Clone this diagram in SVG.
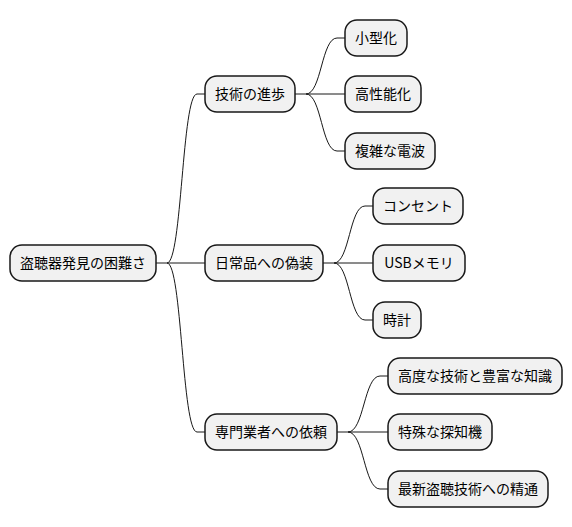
<svg xmlns="http://www.w3.org/2000/svg" width="572" height="527" viewBox="0 0 572 527">
<style>
.n rect{fill:#F1F1F1;stroke:#181818;stroke-width:1.5}
.n text{font-family:"Noto Sans CJK JP","Noto Sans",sans-serif;font-size:14px;fill:#000;text-anchor:middle}
#links path{fill:none;stroke:#181818;stroke-width:1}
</style>
<rect width="572" height="527" fill="#FFFFFF"/>
<g id="links">
<path d="M156,263 H167 C182,263 182,94 197,94 H205"/>
<path d="M167,263 H205"/>
<path d="M167,263 C182,263 182,432 197,432 H205"/>
<path d="M295,94 H306 C321.5,94 321.5,38 337,38 H345"/>
<path d="M306,94 H345"/>
<path d="M306,94 C321.5,94 321.5,151 337,151 H345"/>
<path d="M323,263 H334 C349.5,263 349.5,206 365,206 H373"/>
<path d="M334,263 H373"/>
<path d="M334,263 C349.5,263 349.5,320 365,320 H373"/>
<path d="M337,432 H348 C364,432 364,376 380,376 H388"/>
<path d="M348,432 H388"/>
<path d="M348,432 C364,432 364,489 380,489 H388"/>
</g>
<g id="root" class="n"><rect x="10" y="245" width="146" height="36" rx="12"/><text x="83" y="268">盗聴器発見の困難さ</text></g>
<g id="n1" class="n"><rect x="205" y="76" width="90" height="36" rx="12"/><text x="250" y="99">技術の進歩</text></g>
<g id="n2" class="n"><rect x="205" y="245" width="118" height="36" rx="12"/><text x="264" y="268">日常品への偽装</text></g>
<g id="n3" class="n"><rect x="205" y="414" width="132" height="36" rx="12"/><text x="271" y="437">専門業者への依頼</text></g>
<g id="n1a" class="n"><rect x="345" y="20" width="62" height="36" rx="12"/><text x="376" y="43">小型化</text></g>
<g id="n1b" class="n"><rect x="345" y="76" width="76" height="36" rx="12"/><text x="383" y="99">高性能化</text></g>
<g id="n1c" class="n"><rect x="345" y="133" width="90" height="36" rx="12"/><text x="390" y="156">複雑な電波</text></g>
<g id="n2a" class="n"><rect x="373" y="188" width="90" height="36" rx="12"/><text x="418" y="211">コンセント</text></g>
<g id="n2b" class="n"><rect x="373" y="245" width="92" height="36" rx="12"/><text x="419" y="268">USBメモリ</text></g>
<g id="n2c" class="n"><rect x="373" y="302" width="48" height="36" rx="12"/><text x="397" y="325">時計</text></g>
<g id="n3a" class="n"><rect x="388" y="358" width="174" height="36" rx="12"/><text x="475" y="381">高度な技術と豊富な知識</text></g>
<g id="n3b" class="n"><rect x="388" y="414" width="104" height="36" rx="12"/><text x="440" y="437">特殊な探知機</text></g>
<g id="n3c" class="n"><rect x="388" y="471" width="160" height="36" rx="12"/><text x="468" y="494">最新盗聴技術への精通</text></g>
</svg>
